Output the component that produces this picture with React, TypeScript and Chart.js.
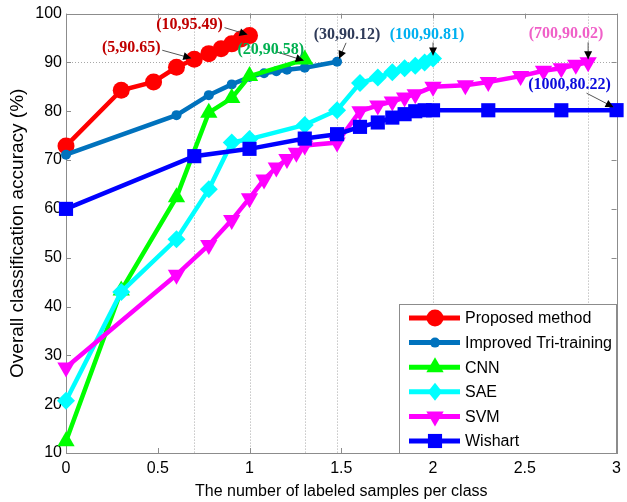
import React, { useEffect, useRef } from "react";
import { Chart, registerables } from "chart.js";

Chart.register(...registerables);

// ---- data (x = number of labeled samples per class, plotted as log10) ----
const seriesNames = ["Proposed method", "Improved Tri-training", "CNN", "SAE", "SVM", "Wishart"];

const proposedN = [1, 2, 3, 4, 5, 6, 7, 8, 9, 10];
const proposedAcc = [72.9, 84.3, 86.0, 89.0, 90.65, 91.8, 92.8, 93.8, 94.8, 95.49];

const triN = [1, 4, 6, 8, 10, 12, 14, 16, 20, 30];
const triAcc = [71.1, 79.2, 83.3, 85.5, 87.0, 87.8, 88.2, 88.5, 88.9, 90.12];

const cnnN = [1, 2, 4, 6, 8, 10, 20];
const cnnAcc = [12.4, 43.3, 62.4, 79.7, 82.7, 87.2, 90.58];

const saeN = [1, 2, 4, 6, 8, 10, 20, 30, 40, 50, 60, 70, 80, 90, 100];
const saeAcc = [20.7, 43.0, 53.8, 64.0, 73.6, 74.3, 77.2, 80.2, 85.8, 86.9, 88.0, 88.8, 89.3, 90.0, 90.81];

const svmN = [1, 4, 6, 8, 10, 12, 14, 16, 18, 20, 30, 40, 50, 60, 70, 80, 100, 150, 200, 300, 400, 500, 600, 700];
const svmAcc = [27.5, 46.5, 52.6, 57.7, 62.2, 66.0, 68.5, 70.2, 71.5, 73.0, 73.6, 80.0, 81.2, 82.0, 82.8, 83.5, 85.0, 85.3, 86.0, 87.2, 88.3, 88.8, 89.5, 90.02];

const wishN = [1, 5, 10, 20, 30, 40, 50, 60, 70, 80, 90, 100, 200, 500, 1000];
const wishAcc = [60.0, 70.8, 72.3, 74.4, 75.3, 76.8, 77.7, 78.7, 79.4, 80.0, 80.2, 80.2, 80.2, 80.2, 80.22];

// dotted guide lines
const guideN = [5, 10, 20, 30, 100, 700];
const guideAcc = [90];

// callouts
const calloutN = [10, 5, 20, 30, 100, 700, 1000];
const calloutAcc = [95.49, 90.65, 90.58, 90.12, 90.81, 90.02, 80.22];

const xTickMin = 0;
const xTickMax = 3;
const yTickMin = 10;
const yTickMax = 100;

// ---- styles ----
const colors = ["#ff0000", "#0072bd", "#00ff00", "#00ffff", "#ff00ff", "#0000ff"];
const pointStyles = ["circle", "circle", "triangle", "rectRot", "triangle", "rect"];
const pointRotations = [0, 0, 0, 0, 180, 0];
const pointRadii = [8.5, 5, 10, 9, 10, 10];

// callout style: color, label offset (dx,dy) from point, arrow start offset from point, tip offset
const calloutStyles = [
  { color: "#c00000", lx: -60, ly: -11, sx: -25, sy: -8, tx: -2, ty: -1 },
  { color: "#c00000", lx: -63, ly: -11, sx: -32, sy: -9, tx: -3, ty: -1 },
  { color: "#00b050", lx: -34, ly: -10, sx: -29, sy: -8, tx: -1, ty: 1 },
  { color: "#2f3b59", lx: 10, ly: -27, sx: 9, sy: -19, tx: 2, ty: -3 },
  { color: "#00b0f0", lx: -6, ly: -24, sx: 0, sy: -16, tx: 0, ty: -3 },
  { color: "#f060c8", lx: -22, ly: -28, sx: 0, sy: -20, tx: 0, ty: -3 },
  { color: "#0a0adc", lx: -47, ly: -25, sx: -30, sy: -17, tx: -3, ty: -3 },
];

const SANS = "'Liberation Sans', Arial, sans-serif";
const SERIF = "'Liberation Serif', 'Times New Roman', serif";

function toPoints(ns: number[], vs: number[]) {
  return ns.map((n, i) => ({ x: Math.log10(n), y: vs[i] }));
}

function drawMarker(ctx: CanvasRenderingContext2D, style: string, x: number, y: number, r: number, color: string, rot: number) {
  ctx.beginPath();
  if (style === "circle") {
    ctx.arc(x, y, r, 0, Math.PI * 2);
  } else if (style === "triangle") {
    let a = (rot * Math.PI) / 180;
    for (let k = 0; k < 3; k++) {
      const px = x + Math.sin(a) * r;
      const py = y - Math.cos(a) * r;
      if (k === 0) ctx.moveTo(px, py);
      else ctx.lineTo(px, py);
      a += (2 * Math.PI) / 3;
    }
    ctx.closePath();
  } else if (style === "rect") {
    const s = r * Math.SQRT1_2;
    ctx.rect(x - s, y - s, 2 * s, 2 * s);
  } else if (style === "rectRot") {
    ctx.moveTo(x, y - r);
    ctx.lineTo(x + r * 0.8, y);
    ctx.lineTo(x, y + r);
    ctx.lineTo(x - r * 0.8, y);
    ctx.closePath();
  }
  ctx.fillStyle = color;
  ctx.fill();
}

const framePlugin = {
  id: "framePlugin",
  beforeDatasetsDraw(chart: any) {
    const { ctx, chartArea: a, scales } = chart;
    const x = scales.x;
    const y = scales.y;
    ctx.save();
    ctx.lineWidth = 1;
    ctx.strokeStyle = "#a8a8a8";
    ctx.setLineDash([1, 2]);
    guideN.forEach((n) => {
      const px = Math.round(x.getPixelForValue(Math.log10(n))) + 0.5;
      ctx.beginPath();
      ctx.moveTo(px, a.top);
      ctx.lineTo(px, a.bottom);
      ctx.stroke();
    });
    guideAcc.forEach((v) => {
      const py = Math.round(y.getPixelForValue(v)) + 0.5;
      ctx.beginPath();
      ctx.moveTo(a.left, py);
      ctx.lineTo(a.right, py);
      ctx.stroke();
    });
    ctx.setLineDash([]);
    ctx.strokeStyle = "#8c8c8c";
    ctx.strokeRect(Math.round(a.left) + 0.5, Math.round(a.top) + 0.5, Math.round(a.right - a.left), Math.round(a.bottom - a.top));
    const tl = 5;
    x.ticks.forEach((t: any) => {
      const px = Math.round(x.getPixelForValue(t.value)) + 0.5;
      ctx.beginPath();
      ctx.moveTo(px, a.bottom);
      ctx.lineTo(px, a.bottom - tl);
      ctx.moveTo(px, a.top);
      ctx.lineTo(px, a.top + tl);
      ctx.stroke();
    });
    y.ticks.forEach((t: any) => {
      const py = Math.round(y.getPixelForValue(t.value)) + 0.5;
      ctx.beginPath();
      ctx.moveTo(a.left, py);
      ctx.lineTo(a.left + tl, py);
      ctx.moveTo(a.right, py);
      ctx.lineTo(a.right - tl, py);
      ctx.stroke();
    });
    ctx.restore();
  },
  afterDatasetsDraw(chart: any) {
    const { ctx, scales } = chart;
    const x = scales.x;
    const y = scales.y;
    ctx.save();
    calloutN.forEach((n, i) => {
      const st = calloutStyles[i];
      const px = x.getPixelForValue(Math.log10(n));
      const py = y.getPixelForValue(calloutAcc[i]);
      const tipX = px + st.tx;
      const tipY = py + st.ty;
      const sX = px + st.sx;
      const sY = py + st.sy;
      ctx.strokeStyle = "#555555";
      ctx.lineWidth = 1;
      ctx.beginPath();
      ctx.moveTo(sX, sY);
      ctx.lineTo(tipX, tipY);
      ctx.stroke();
      const ang = Math.atan2(tipY - sY, tipX - sX);
      const L = 8;
      const W = 4;
      ctx.beginPath();
      ctx.moveTo(tipX, tipY);
      ctx.lineTo(tipX - L * Math.cos(ang) + W * Math.sin(ang), tipY - L * Math.sin(ang) - W * Math.cos(ang));
      ctx.lineTo(tipX - L * Math.cos(ang) - W * Math.sin(ang), tipY - L * Math.sin(ang) + W * Math.cos(ang));
      ctx.closePath();
      ctx.fillStyle = "#000000";
      ctx.fill();
      ctx.font = `bold 16px ${SERIF}`;
      ctx.fillStyle = st.color;
      ctx.textAlign = "center";
      ctx.textBaseline = "middle";
      ctx.fillText(`(${n},${calloutAcc[i]})`, px + st.lx, py + st.ly);
    });
    ctx.restore();
  },
  afterDraw(chart: any) {
    const { ctx, chartArea: a } = chart;
    ctx.save();
    const w = 218;
    const h = 149;
    const bx = Math.round(a.right) - w;
    const by = Math.round(a.bottom) - h;
    ctx.fillStyle = "#ffffff";
    ctx.fillRect(bx, by, w, h);
    ctx.strokeStyle = "#8c8c8c";
    ctx.lineWidth = 1;
    ctx.strokeRect(bx + 0.5, by + 0.5, w - 1, h);
    const rowH = 24.6;
    seriesNames.forEach((name, i) => {
      const cy = by + 14 + i * rowH;
      ctx.strokeStyle = colors[i];
      ctx.lineWidth = 5;
      ctx.beginPath();
      ctx.moveTo(bx + 10, cy);
      ctx.lineTo(bx + 61, cy);
      ctx.stroke();
      drawMarker(ctx, pointStyles[i], bx + 36, cy, pointRadii[i], colors[i], pointRotations[i]);
      ctx.fillStyle = "#000000";
      ctx.font = `16px ${SANS}`;
      ctx.textAlign = "left";
      ctx.textBaseline = "middle";
      ctx.fillText(name, bx + 66, cy + 1);
    });
    ctx.restore();
  },
};

export default function App() {
  const ref = useRef<HTMLCanvasElement | null>(null);
  useEffect(() => {
    document.body.style.margin = "0";
    const canvas = ref.current;
    if (!canvas) return;
    const all = [
      [proposedN, proposedAcc],
      [triN, triAcc],
      [cnnN, cnnAcc],
      [saeN, saeAcc],
      [svmN, svmAcc],
      [wishN, wishAcc],
    ];
    const chart = new Chart(canvas, {
      type: "line",
      data: {
        datasets: all.map(([ns, vs], i) => ({
          label: seriesNames[i],
          data: toPoints(ns as number[], vs as number[]),
          borderColor: colors[i],
          backgroundColor: colors[i],
          borderWidth: 4.5,
          pointStyle: pointStyles[i] as any,
          pointRotation: pointRotations[i],
          pointRadius: pointRadii[i],
          pointBorderWidth: 0,
          pointBackgroundColor: colors[i],
          tension: 0,
          clip: false as any,
          order: 5 - i,
        })),
      },
      options: {
        animation: false,
        responsive: false,
        events: [],
        layout: { padding: { left: 0, right: 8, top: 13, bottom: 0 } },
        plugins: { legend: { display: false }, tooltip: { enabled: false } },
        scales: {
          x: {
            type: "linear",
            min: xTickMin,
            max: xTickMax,
            ticks: {
              stepSize: 0.5,
              padding: 6,
              color: "#000",
              font: { family: SANS, size: 16 },
              maxRotation: 0,
              callback: (v: any) => String(Number(v)),
            },
            grid: { display: false, drawTicks: false },
            border: { display: false },
            title: {
              display: true,
              text: "The number of labeled samples per class",
              color: "#000",
              font: { family: SANS, size: 16 },
              padding: { top: 0, bottom: 1 },
            },
            afterFit: (s: any) => {
              s.height = 49;
            },
          },
          y: {
            type: "linear",
            min: yTickMin,
            max: yTickMax,
            ticks: { stepSize: 10, padding: 4, color: "#000", font: { family: SANS, size: 16 } },
            grid: { display: false, drawTicks: false },
            border: { display: false },
            title: {
              display: true,
              text: "Overall classification accuracy (%)",
              color: "#000",
              font: { family: SANS, size: 19 },
              padding: { top: 6, bottom: 0 },
            },
            afterFit: (s: any) => {
              s.width = 66;
            },
          },
        },
      },
      plugins: [framePlugin],
    });
    return () => chart.destroy();
  }, []);
  return <canvas ref={ref} width={627} height={502} style={{ display: "block" }} />;
}
